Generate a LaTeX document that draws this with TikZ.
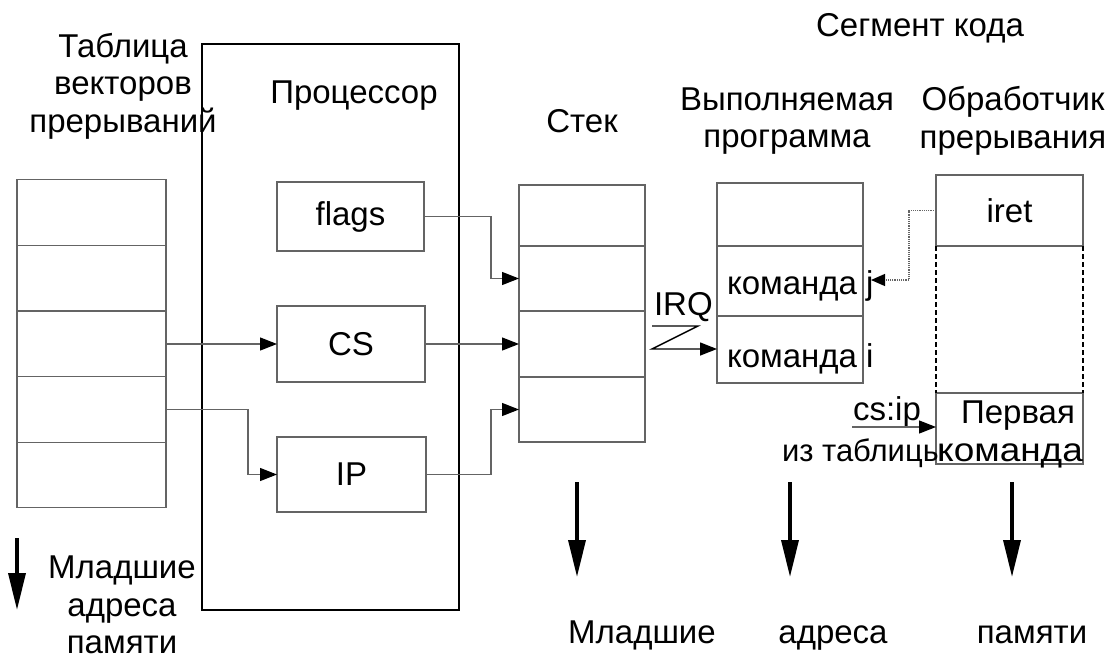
\documentclass[tikz,border=0pt]{standalone}
\usepackage{fontspec}
\setmainfont{Liberation Sans}
\usetikzlibrary{arrows.meta}
\definecolor{linegray}{RGB}{100,100,100}
\begin{document}
\begin{tikzpicture}[x=1pt,y=-1pt,
  every node/.style={font=\fontsize{33}{37.5}\selectfont, inner sep=0pt, outer sep=0pt},
  cell/.style={draw=linegray, line width=1.3pt},
  conn/.style={draw=linegray, line width=1.3pt, -{Triangle[length=17pt,width=13pt,color=black]}},
  zig/.style={draw=black, line width=1.4pt, -{Triangle[length=17pt,width=13pt,color=black]}},
  dotconn/.style={draw=linegray, line width=1.2pt, densely dotted, -{Triangle[length=14pt,width=12pt,color=black]}},
  memarrow/.style={line width=3.5pt, -{Triangle[length=37pt,width=17pt]}},
  caption/.style={align=center}
]
\useasboundingbox (0,0) rectangle (1113,661);

% interrupt vector table
\foreach \i/\y in {1/212.5,2/278,3/344,4/409.5,5/475}
  \node[cell, minimum width=149pt, minimum height=65.6pt] (t\i) at (91.5,\y) {};
\node[caption] (tabcap) at (123,86) {Таблица\\векторов\\прерываний};

% processor with its registers
\node[draw=black, line width=1.4pt, minimum width=257pt, minimum height=566pt] (proc) at (330.5,327) {};
\node (proccap) at (354,96) {Процессор};
\node[cell, minimum width=147pt, minimum height=69pt] (flags) at (350.5,216.5) {flags};
\node[cell, minimum width=148pt, minimum height=76pt] (CS) at (351,344) {CS};
\node[cell, minimum width=149pt, minimum height=75pt] (IP) at (351.5,474.5) {IP};

% stack
\node (stackcap) at (582,121) {Стек};
\node[cell, minimum width=126pt, minimum height=61pt] (s1) at (582,215.5) {};
\node[cell, minimum width=126pt, minimum height=65pt] (s2) at (582,278.5) {};
\node[cell, minimum width=126pt, minimum height=66pt] (s3) at (582,344) {};
\node[cell, minimum width=126pt, minimum height=65pt] (s4) at (582,409.5) {};

% code segment: running program and interrupt handler
\node (segcap) at (920,28) {Сегмент кода};
\node[caption] (progcap) at (787,121) {Выполняемая\\программа};
\node[caption] (handcap) at (1013,121) {Обработчик\\прерывания};

\node[cell, minimum width=146pt, minimum height=63pt] (e1) at (790,214.5) {};
\node[cell, minimum width=146pt, minimum height=70pt] (e2) at (790,281) {};
\node[cell, minimum width=146pt, minimum height=67pt] (e3) at (790,349.5) {};
\node[anchor=base west] (cmdj) at (727,294) {команда j};
\node[anchor=base west] (cmdi) at (727,367) {команда i};

\node[cell, minimum width=147pt, minimum height=71pt] (h1) at (1009.5,210.5) {iret};
\node[minimum width=147pt, minimum height=147pt] (hm) at (1009.5,319.5) {};
\node[cell, minimum width=147pt, minimum height=71pt] (h3) at (1009.5,428.5) {};
\node[anchor=base] (first) at (1018,423) {Первая};
\node[anchor=base] (firstcmd) at (1010,461) {\scalebox{1.12}[1]{команда}};
\draw[line width=1.2pt, dash pattern=on 5pt off 3pt] (hm.north west) -- (hm.south west);
\draw[line width=1.2pt, dash pattern=on 5pt off 3pt] (hm.north east) -- (hm.south east);

% saving flags, CS and IP on the stack
\coordinate (busx) at (491,0);
\draw[conn] (flags.east) -- (flags.east -| busx) |- (s2.west);
\draw[conn] (CS.east) -- (s3.west);
\draw[conn] (IP.east) -- (IP.east -| busx) |- (s4.west);

% loading CS and IP from the vector table
\coordinate (tabx) at (248,0);
\draw[conn] (t3.east) -- (CS.west);
\draw[conn] (t4.east) -- (t4.east -| tabx) |- (IP.west);

% interrupt request
\node[anchor=base west] (irq) at (654,315) {IRQ};
\coordinate (z1) at (652,326);
\coordinate (z2) at (698,326);
\coordinate (z3) at (652,349);
\draw[zig] (z1) -- (z2) -- (z3) -- (z3 -| e3.west);

% return from the handler
\coordinate (retx) at (909,0);
\coordinate (jtip) at (871,280);
\draw[dotconn] (h1.west) -- (h1.west -| retx) |- (jtip);

% jump to the handler
\node[anchor=base west] (csip) at (853,420) {cs:ip};
\node[anchor=base west, font=\fontsize{31}{37.5}\selectfont] (iztab) at (782,461) {из таблицы};
\coordinate (cstail) at (852,427);
\draw[conn] (cstail) -- (cstail -| h3.west);

% direction of lower memory addresses
\coordinate (la) at (17,538);  \coordinate (lb) at (17,610);
\draw[memarrow] (la) -- (lb);
\node[caption] (leftcap) at (122,605) {Младшие\\адреса\\памяти};
\coordinate (m1a) at (577,482); \coordinate (m1b) at (577,577);
\coordinate (m2a) at (790,482); \coordinate (m2b) at (790,577);
\coordinate (m3a) at (1012,482); \coordinate (m3b) at (1012,577);
\draw[memarrow] (m1a) -- (m1b);
\draw[memarrow] (m2a) -- (m2b);
\draw[memarrow] (m3a) -- (m3b);
\node[anchor=base] (lo1) at (642,643) {Младшие};
\node[anchor=base] (lo2) at (833,643) {адреса};
\node[anchor=base] (lo3) at (1032,643) {памяти};
\end{tikzpicture}
\end{document}
